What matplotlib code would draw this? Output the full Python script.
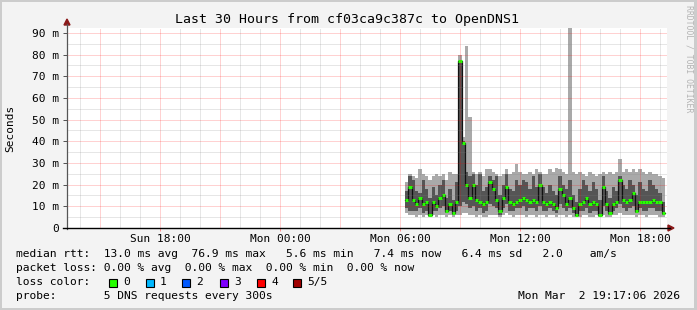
import numpy as np
import matplotlib
matplotlib.use('Agg')
import matplotlib.pyplot as plt
from matplotlib.patches import Rectangle, Polygon

# 10 minute samples, hours after Mon 00:00, first one at 06:15
start_h = 6.25
step_h = 1 / 6.0
median = [13, 19, 13, 11, 14, 11, 12, 6, 12, 10, 14, 15, 8, 11, 7, 12,
          77, 39, 20, 14, 20, 13, 12, 11, 12, 21, 18, 13, 8, 14, 19, 12,
          11, 12, 13, 14, 13, 12, 13, 12, 20, 12, 11, 12, 11, 9, 18, 15,
          11, 14, 9, 6, 11, 12, 14, 11, 12, 11, 6, 19, 11, 7, 11, 12,
          22, 13, 12, 13, 16, 8, 12, 12, 12, 12, 13, 12, 12, 7]
ping_min = [7, 6, 6, 5, 6, 5, 6, 5, 6, 5, 6, 6, 5, 6, 5, 6,
            6, 7, 7, 6, 6, 5, 6, 5, 5, 6, 6, 6, 5, 6, 7, 6,
            5, 6, 6, 6, 5, 6, 6, 5, 6, 6, 5, 6, 6, 5, 6, 6,
            5, 6, 5, 5, 5, 6, 6, 5, 5, 6, 5, 6, 5, 5, 6, 6,
            7, 6, 6, 6, 6, 5, 6, 6, 5, 6, 6, 6, 5, 5]
ping_lo = [9, 8, 8, 8, 9, 7, 8, 6, 8, 8, 9, 10, 7, 8, 6, 8,
           10, 12, 11, 9, 10, 8, 9, 7, 8, 11, 10, 9, 6, 9, 11, 8,
           8, 9, 9, 10, 8, 9, 9, 8, 10, 8, 8, 9, 8, 7, 11, 9,
           8, 9, 7, 6, 8, 8, 9, 7, 8, 8, 6, 10, 8, 6, 8, 9,
           11, 9, 8, 9, 10, 7, 9, 8, 8, 9, 9, 8, 8, 6]
ping_hi = [17, 24, 22, 17, 16, 22, 18, 14, 19, 15, 20, 22, 14, 18, 13, 21,
           77, 40, 26, 24, 25, 20, 25, 17, 19, 24, 22, 24, 15, 20, 25, 18,
           17, 22, 20, 22, 21, 18, 24, 19, 25, 19, 16, 20, 17, 15, 24, 20,
           18, 22, 15, 12, 18, 22, 20, 17, 21, 18, 13, 24, 17, 14, 19, 17,
           24, 20, 18, 22, 20, 15, 21, 18, 17, 22, 20, 18, 16, 12]
ping_max = [21, 25, 24, 23, 27, 25, 24, 22, 24, 25, 24, 25, 22, 26, 25, 25,
            80, 42, 84, 51, 26, 25, 26, 24, 27, 27, 26, 25, 24, 25, 27, 25,
            26, 29.5, 26, 25, 25, 26, 25, 27, 26, 25, 25, 27, 26, 27.5, 27, 26,
            25, 100, 26, 25, 26, 25, 24, 26, 25, 24, 25, 26, 25, 26, 25, 26,
            32, 26, 27, 26, 27, 26, 27, 26, 25, 26, 25, 25, 24, 23]

xlabels = ['Sun 18:00', 'Mon 00:00', 'Mon 06:00', 'Mon 12:00', 'Mon 18:00']
xlabel_pos = [-6, 0, 6, 12, 18]
ylabels = ['0', '10 m', '20 m', '30 m', '40 m', '50 m', '60 m', '70 m', '80 m', '90 m']
loss_names = ['0', '1', '2', '3', '4', '5/5']
loss_colors = ['#26ff00', '#00b8ff', '#0059ff', '#7e00ff', '#ff0000', '#a00000']

W, H = 697, 310
mono = 'DejaVu Sans Mono'

def fx(px):
    return px / W

def fy(py):
    return 1 - py / H

fig = plt.figure(figsize=(W / 100, H / 100), dpi=100, facecolor='#f3f3f3')
ax = fig.add_axes([fx(67), fy(228), 600 / W, 200 / H])
ax.set_facecolor('white')
ax.set_xlim(-10.65, 19.35)
ax.set_ylim(0, 92.3)

n = len(median)
t = start_h + np.arange(n) * step_h
te = np.append(t, t[-1] + step_h)

def ext(a):
    a = np.array(a, dtype=float)
    return np.append(a, a[-1])

ax.fill_between(te, ext(ping_min), ext(ping_max), step='post', color='#a9a9a9', lw=0, zorder=2)
ax.fill_between(te, ext(ping_lo), ext(ping_hi), step='post', color='#555555', lw=0, zorder=3)
ax.step(te, ext(median), where='post', color='#111111', lw=0.9, zorder=4)
ax.hlines(median, t, t + step_h, color=loss_colors[0], lw=2.2, zorder=5)

# grid on top, like rrdtool
dot = (0, (1, 1))
for h in range(-10, 20):
    c = (1, 0, 0, 0.36) if h % 3 == 0 else (0.5, 0.5, 0.5, 0.38)
    ax.axvline(h, color=c, lw=0.72, ls=dot, zorder=6)
for v in range(5, 92, 5):
    c = (1, 0, 0, 0.36) if v % 10 == 0 else (0.5, 0.5, 0.5, 0.38)
    ax.axhline(v, color=c, lw=0.72, ls=dot, zorder=6)

for s in ax.spines.values():
    s.set_visible(False)
ax.set_yticks(range(0, 91, 10))
ax.set_yticklabels(ylabels, family=mono, fontsize=8)
ax.set_xticks(xlabel_pos)
ax.set_xticklabels(xlabels, family=mono, fontsize=8)
ax.tick_params(axis='y', length=3, width=0.72, color='#555555', pad=3)
ax.tick_params(axis='x', length=2, width=0.72, color='#ff9090', pad=2)

# axes with arrows
fig.add_artist(plt.Line2D([fx(67), fx(67)], [fy(229), fy(24)], color='#555555', lw=0.9))
fig.add_artist(plt.Line2D([fx(63), fx(670)], [fy(228), fy(228)], color='#000000', lw=1.0))
fig.add_artist(Polygon([[fx(64), fy(25)], [fx(70), fy(25)], [fx(67), fy(19)]], closed=True,
                       color='#8b1a1a', transform=fig.transFigure))
fig.add_artist(Polygon([[fx(668), fy(225)], [fx(668), fy(231)], [fx(674), fy(228)]], closed=True,
                       color='#8b1a1a', transform=fig.transFigure))

fig.text(fx(347), fy(19), 'Last 30 Hours from cf03ca9c387c to OpenDNS1',
         family=mono, fontsize=9.5, ha='center', va='center')
fig.text(fx(10), fy(128), 'Seconds', family=mono, fontsize=8, rotation=90,
         ha='center', va='center')
fig.text(fx(689), fy(59), 'RRDTOOL / TOBI OETIKER', family=mono, fontsize=5.9,
         rotation=-90, color='#b4b4b4', ha='center', va='center')

fs = 8.1
fig.text(fx(16), fy(254), 'median rtt:  13.0 ms avg  76.9 ms max   5.6 ms min   7.4 ms now   6.4 ms sd   2.0    am/s',
         family=mono, fontsize=fs, va='center')
fig.text(fx(16), fy(268), 'packet loss: 0.00 % avg  0.00 % max  0.00 % min  0.00 % now',
         family=mono, fontsize=fs, va='center')
fig.text(fx(16), fy(282), 'loss color:', family=mono, fontsize=fs, va='center')
box_x = [109, 146, 182, 220, 257, 293]
for bx, name, col in zip(box_x, loss_names, loss_colors):
    fig.add_artist(Rectangle((fx(bx), fy(286.5)), 8 / W, 8 / H, facecolor=col,
                             edgecolor='black', lw=0.8, transform=fig.transFigure))
    fig.text(fx(bx + 14), fy(282), name, family=mono, fontsize=fs, va='center')
fig.text(fx(16), fy(296), 'probe:       5 DNS requests every 300s', family=mono, fontsize=fs, va='center')
fig.text(fx(680), fy(296), 'Mon Mar  2 19:17:06 2026', family=mono, fontsize=fs, va='center', ha='right')

# frame
bc = '#cccccc'
for r in [(0, 0, W, 2), (0, H - 2, W, 2), (0, 0, 2, H), (W - 3, 0, 3, H)]:
    fig.add_artist(Rectangle((fx(r[0]), fy(r[1] + r[3])), r[2] / W, r[3] / H,
                             facecolor=bc, lw=0, transform=fig.transFigure))

fig.savefig('out.png', dpi=100, facecolor=fig.get_facecolor())
